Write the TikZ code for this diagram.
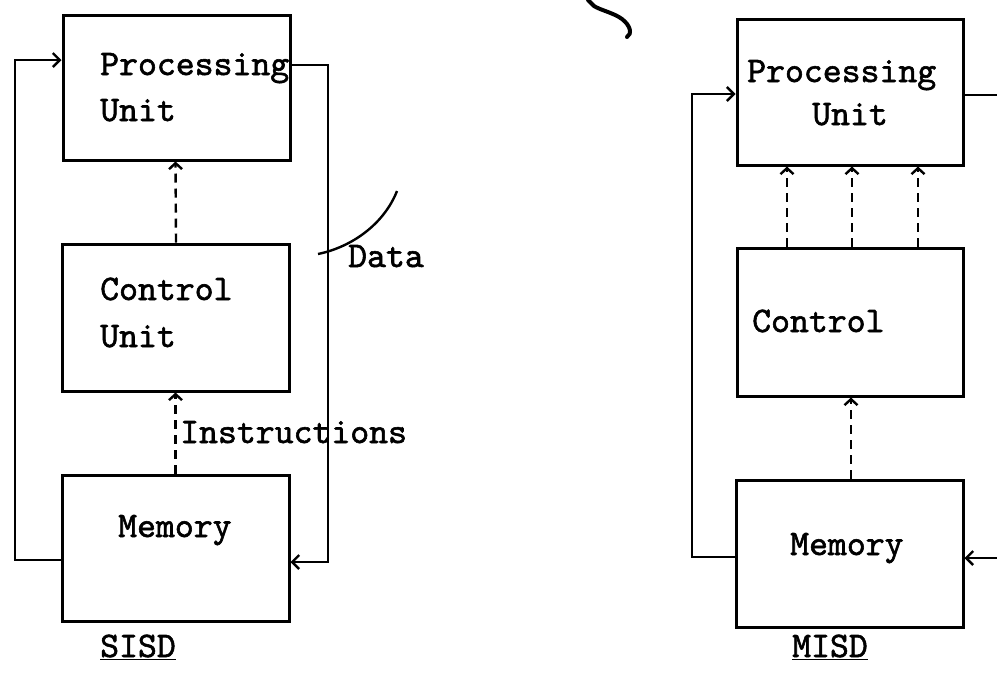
\documentclass[tikz,border=0pt]{standalone}
\usepackage{fontspec}
\newfontfamily\typefont[FakeBold=1.6]{lmmono10-regular.otf}
\usetikzlibrary{arrows.meta,calc}
\begin{document}
\begin{tikzpicture}[x=1pt,y=-1pt,
  box/.style={draw,line width=3pt,rectangle,inner sep=0pt},
  lbl/.style={font=\fontsize{36}{40}\selectfont\typefont,inner sep=0pt,anchor=base west},
  wire/.style={line width=2.8pt},
  flow/.style={wire,-{Straight Barb[length=7pt,width=14pt,line width=2.4pt]}},
  ctrl/.style={line width=2.4pt,dash pattern=on 9pt off 6pt,-{Straight Barb[length=6pt,width=13pt,line width=2.4pt]}}]
\useasboundingbox (0,0) rectangle (997,673);

% ---------- SISD ----------
\node[box,minimum width=227pt,minimum height=145pt] (pu1)  at (176.5,87.5) {};
\node[box,minimum width=227pt,minimum height=147pt] (cu1)  at (175.5,317.5) {};
\node[box,minimum width=227pt,minimum height=146pt] (mem1) at (175.5,548) {};

\node[lbl] (pu1a) at (100,75)  {Processing};
\node[lbl] (pu1b) at (100,121) {Unit};
\node[lbl] (cu1a) at (100,300) {Control};
\node[lbl] (cu1b) at (100,347) {Unit};
\node[lbl] (mem1t) at (118,537) {Memory};
\node[lbl] (instr) at (180,443) {Instructions};
\node[lbl] (data) at (348,267) {Data};
\node[lbl] (sisd) at (100,657) {\underline{SISD}};

\draw[ctrl] (mem1.north) -- (cu1.south);
\draw[ctrl] ($(cu1.north)+(0.5,0)$) -- ($(pu1.south)+(-1,0)$);

\coordinate (l1) at (15,0);
\coordinate (r1) at (328,0);
\coordinate (m1w) at ($(mem1.west)+(0,12)$);
\coordinate (p1w) at ($(pu1.west)+(0,-27.5)$);
\coordinate (p1e) at ($(pu1.east)+(0,-22.5)$);
\coordinate (m1e) at ($(mem1.east)+(0,14)$);
\draw[flow] (m1w) -- (m1w -| l1) -- (p1w -| l1) -- (p1w);
\draw[flow] (p1e) -- (p1e -| r1) -- (m1e -| r1) -- (m1e);

% pointer from the data wire to its label
\draw[line width=2.4pt] (318,254) .. controls (352,247) and (384,224) .. (397,191);

% ---------- MISD ----------
\node[box,minimum width=226pt,minimum height=146pt] (pu2)  at (850,92) {};
\node[box,minimum width=226pt,minimum height=148pt] (cu2)  at (850,322) {};
\node[box,minimum width=227pt,minimum height=147pt] (mem2) at (849.5,553.5) {};

\node[lbl] (pu2a) at (747,82)  {Processing};
\node[lbl] (pu2b) at (812,125) {Unit};
\node[lbl] (cu2a) at (752,332) {Control};
\node[lbl] (mem2t) at (790,555) {Memory};
\node[lbl] (misd) at (792,657) {\underline{MISD}};

\draw[ctrl] ($(cu2.north)+(-63,0)$) -- ($(pu2.south)+(-63,0)$);
\draw[ctrl] ($(cu2.north)+(2,0)$)   -- ($(pu2.south)+(2,0)$);
\draw[ctrl] ($(cu2.north)+(68,0)$)  -- ($(pu2.south)+(68,0)$);
\draw[ctrl] ($(mem2.north)+(1.5,0)$) -- ($(cu2.south)+(1,0)$);

\coordinate (l2) at (692,0);
\coordinate (edge) at (997,0);
\coordinate (m2w) at ($(mem2.west)+(0,3.5)$);
\coordinate (p2w) at ($(pu2.west)+(0,2)$);
\coordinate (p2e) at ($(pu2.east)+(0,3)$);
\coordinate (m2e) at ($(mem2.east)+(0,4.5)$);
\draw[flow] (m2w) -- (m2w -| l2) -- (p2w -| l2) -- (p2w);
\draw[wire] (p2e) -- (p2e -| edge);
\draw[flow] (m2e -| edge) -- (m2e);

% pen stroke at the top edge
\draw[line width=4pt,line cap=round] (588,0) -- (594,6) .. controls (600,10) and (614,13) .. (622,19)
  .. controls (631,26) and (632,34) .. (627,37);
\end{tikzpicture}
\end{document}
